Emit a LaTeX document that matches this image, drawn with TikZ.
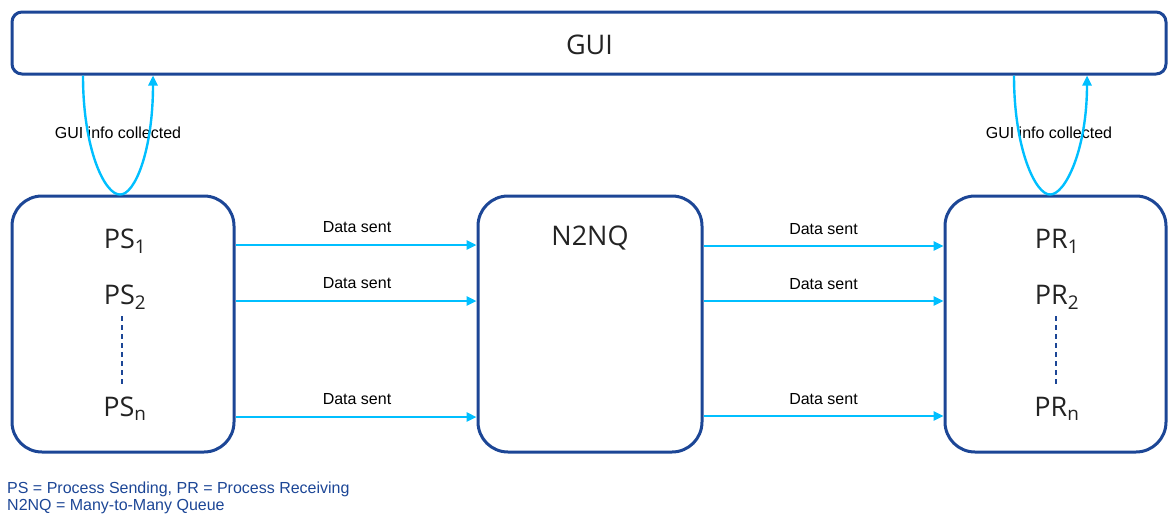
\documentclass[tikz,border=0pt]{standalone}
\usepackage{fontspec}
\setmainfont{Liberation Sans}
\newfontfamily\thinfont{Open Sans}
\usetikzlibrary{arrows.meta}
\definecolor{boxblue}{RGB}{28,70,150}
\definecolor{flowcyan}{RGB}{0,191,255}
\definecolor{txtgray}{RGB}{35,35,35}
\tikzset{
  box/.style={draw=boxblue, line width=3pt, fill=white, inner sep=0pt},
  bigtext/.style={font=\thinfont\fontsize{27}{30}\selectfont, text=txtgray, inner sep=0pt},
  flow/.style={draw=flowcyan, line width=2.4pt},
  flowarrow/.style={flow, -{Triangle[length=10pt,width=9pt]}},
  lbl/.style={font=\fontsize{16}{18}\selectfont, text=black, inner sep=0pt},
  legend/.style={font=\fontsize{16}{17}\selectfont, text=boxblue, inner sep=0pt, anchor=west},
  vdots/.style={draw=boxblue, line width=1.3pt, dash pattern=on 5pt off 4pt}
}
\begin{document}
\begin{tikzpicture}[x=1pt,y=-1pt]
\useasboundingbox (0,0) rectangle (1168,515);
% boxes
\node[box, rounded corners=10pt, minimum width=1154pt, minimum height=62pt] (gui) at (589,43) {};
\node[bigtext] (guit) at (589.5,45) {GUI};
\node[box, rounded corners=30pt, minimum width=222pt, minimum height=256pt] (ps) at (123,324) {};
\node[box, rounded corners=30pt, minimum width=224pt, minimum height=256pt] (nq) at (590,324) {};
\node[box, rounded corners=30pt, minimum width=221pt, minimum height=256pt] (pr) at (1055.5,324) {};
% texts in boxes
\node[bigtext] (ps1) at (125,241) {PS\textsubscript{1}};
\node[bigtext] (ps2) at (125,297) {PS\textsubscript{2}};
\node[bigtext] (psn) at (125,409) {PS\textsubscript{n}};
\node[bigtext] (nqt) at (590,238) {N2NQ};
\node[bigtext] (pr1) at (1057,241) {PR\textsubscript{1}};
\node[bigtext] (pr2) at (1057,297) {PR\textsubscript{2}};
\node[bigtext] (prn) at (1057,409) {PR\textsubscript{n}};
\coordinate (psd1) at (122,316);
\coordinate (psd2) at (122,386);
\coordinate (prd1) at (1056,316);
\coordinate (prd2) at (1056,386);
\draw[vdots] (psd1) -- (psd2);
\draw[vdots] (prd1) -- (prd2);
% data arrows
\foreach \y in {245,301,417}{
  \draw[flowarrow] (ps.east |- 0,\y) -- node[lbl, above=11pt, xshift=1pt]{Data sent} (nq.west |- 0,\y);
}
\foreach \y in {246,301,416}{
  \draw[flowarrow] (nq.east |- 0,\y) -- node[lbl, above=10pt]{Data sent} (pr.west |- 0,\y);
}
% GUI loops
\node[lbl] (gl) at (118,133) {GUI info collected};
\node[lbl] (gr) at (1049,133) {GUI info collected};
\draw[flow] (gui.south -| 83,0) .. controls (83,150) and (105,195) .. (ps.north -| 120,0);
\draw[flowarrow] (ps.north -| 120,0) .. controls (135,195) and (153,150) .. (gui.south -| 153,0);
\draw[flow] (gui.south -| 1014,0) .. controls (1014,150) and (1036,195) .. (pr.north -| 1050,0);
\draw[flowarrow] (pr.north -| 1050,0) .. controls (1065,195) and (1087,150) .. (gui.south -| 1087,0);
% legend
\node[legend] (leg1) at (7,489) {PS = Process Sending, PR = Process Receiving};
\node[legend] (leg2) at (7,507) {N2NQ = Many-to-Many Queue};
\end{tikzpicture}
\end{document}
